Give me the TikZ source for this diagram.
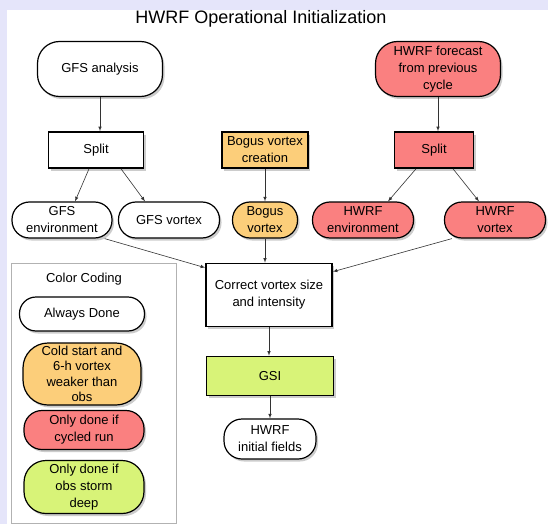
\documentclass[tikz,border=0pt]{standalone}
\usepackage{fontspec}
\setmainfont{Liberation Sans}
\usetikzlibrary{shadows}
\definecolor{fondlav}{RGB}{229, 229, 250}
\definecolor{hwrfred}{RGB}{250, 128, 128}
\definecolor{bogusorange}{RGB}{252, 206, 122}
\definecolor{gsigreen}{RGB}{216, 243, 120}
\tikzset{
    box label/.style={
        font=\fontsize{13}{17}\selectfont,
        align=center,
        inner sep=1pt
    }
}

\begin{document}
\begin{tikzpicture}[x=1pt, y=-1pt, >=latex]

    \tikzstyle{boite} = [
        rectangle,
        draw=black,
        line width=1.6pt,
        fill=white,
        drop shadow={shadow xshift=2pt, shadow yshift=-2.5pt, opacity=0.4},
        box label,
        minimum height=36pt
    ]
    \tikzstyle{pilule} = [
        rectangle,
        rounded corners=17.5pt,
        draw=black,
        line width=1.2pt,
        fill=white,
        drop shadow={shadow xshift=2pt, shadow yshift=-2.5pt, opacity=0.4},
        box label,
        minimum height=36pt
    ]
    \tikzstyle{fleche} = [->, line width=0.6pt, draw=black!80]

    % Fond et cadre
    \useasboundingbox (0,0) rectangle (548,524);
    \fill[fondlav] (0,0) rectangle (548,524);
    \fill[white] (7,10) rectangle (548,524);
    \node[font=\fontsize{18}{20}\selectfont] (titre) at (261,19) {HWRF Operational Initialization};

    % Créer les nœuds
    \node[pilule, minimum width=125pt, minimum height=55pt, rounded corners=22pt] (gfsana) at (100,69) {GFS analysis};
    \node[pilule, fill=hwrfred, minimum width=125pt, minimum height=55pt, rounded corners=22pt] (hwrffcst) at (438,69) {HWRF forecast\\from previous\\cycle};

    \node[boite, minimum width=95pt] (splitg) at (96,150) {Split};
    \node[boite, fill=bogusorange, minimum width=86pt] (bogcre) at (265,150) {Bogus vortex\\creation};
    \node[boite, fill=hwrfred, minimum width=79pt] (splith) at (434,150) {Split};

    \node[pilule, minimum width=100pt] (gfsenv) at (62,220) {GFS\\environment};
    \node[pilule, minimum width=101pt] (gfsvort) at (169,220) {GFS vortex};
    \node[pilule, fill=bogusorange, minimum width=65pt] (bogvort) at (265,220) {Bogus\\vortex};
    \node[pilule, fill=hwrfred, minimum width=101pt] (hwrfenv) at (363,220) {HWRF\\environment};
    \node[pilule, fill=hwrfred, minimum width=101pt] (hwrfvort) at (495,220) {HWRF\\vortex};

    \node[boite, minimum width=126pt, minimum height=63pt] (correct) at (269,295) {Correct vortex size\\and intensity};
    \node[boite, fill=gsigreen, minimum width=127pt, minimum height=39pt] (gsi) at (270,376) {GSI};
    \node[pilule, minimum width=92pt, minimum height=40pt, rounded corners=18pt] (init) at (270,439) {HWRF\\initial fields};

    % Légende
    \draw[gray!60, line width=1pt] (11,263) rectangle (176,523);
    \node[box label] (legtitre) at (84,279) {Color Coding};
    \node[pilule, minimum width=125pt, minimum height=34pt, rounded corners=16.5pt] (always) at (82,314) {Always Done};
    \node[pilule, fill=bogusorange, minimum width=118pt, minimum height=62pt, rounded corners=25pt, font=\fontsize{13}{15.5}\selectfont] (cold) at (82,374) {Cold start and\\6-h vortex\\weaker than\\obs};
    \node[pilule, fill=hwrfred, minimum width=120pt, minimum height=39pt, rounded corners=18pt] (cycled) at (84,430) {Only done if\\cycled run};
    \node[pilule, fill=gsigreen, minimum width=120pt, minimum height=53pt, rounded corners=22pt] (deep) at (84,487) {Only done if\\obs storm\\deep};

    % Dessiner les flèches
    \draw[fleche] (gfsana) -- (gfsana |- splitg.north);
    \draw[fleche] (hwrffcst) -- (hwrffcst |- splith.north);
    \draw[fleche] ([xshift=-7pt]splitg.south) -- ([xshift=13pt]gfsenv.north);
    \draw[fleche] ([xshift=25pt]splitg.south) -- ([xshift=-24pt]gfsvort.north);
    \draw[fleche] (bogcre) -- (bogvort);
    \draw[fleche] ([xshift=-18pt]splith.south) -- ([xshift=25pt]hwrfenv.north);
    \draw[fleche] ([xshift=19pt]splith.south) -- ([xshift=-16pt]hwrfvort.north);
    \draw[fleche] ([xshift=-8pt]gfsenv.south east) -- ([yshift=-5pt]correct.north west);
    \draw[fleche] (bogvort) -- (bogvort |- correct.north);
    \draw[fleche] ([xshift=8pt]hwrfvort.south west) -- ([yshift=-9pt]correct.north east);
    \draw[fleche] (correct) -- (correct |- gsi.north);
    \draw[fleche] (gsi) -- (gsi |- init.north);

\end{tikzpicture}
\end{document}
